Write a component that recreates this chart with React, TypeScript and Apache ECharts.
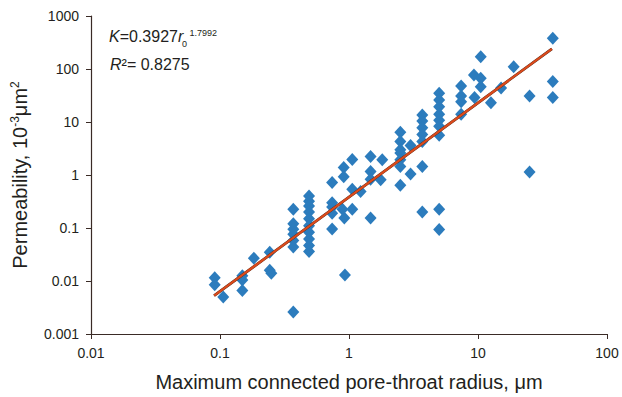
import React, { useEffect, useRef } from "react";
import * as echarts from "echarts";

const FONT = '"Liberation Sans", Arial, Helvetica, sans-serif';
const TEXT = "#231f20";
const AXIS = "#3a2b26";
const BLUE = "#2c7cbd";
const RED = "#da4a1c";

// Maximum connected pore-throat radius (µm), permeability (10^-3 µm^2)
const radius: number[] = [
  0.091, 0.091, 0.106,
  0.149, 0.149, 0.149,
  0.183,
  0.243, 0.243, 0.25,
  0.37, 0.37, 0.37, 0.37, 0.37, 0.37, 0.37,
  0.49, 0.49, 0.49, 0.49, 0.49, 0.49, 0.49, 0.49, 0.49, 0.49,
  0.74, 0.74, 0.74, 0.74, 0.74,
  0.91, 0.91, 0.89, 0.92, 0.93,
  1.06, 1.06, 1.06,
  1.23,
  1.47, 1.47, 1.47, 1.47,
  1.81, 1.76,
  2.5, 2.5, 2.5, 2.5, 2.5, 2.5, 2.5,
  3.0, 3.0,
  3.7, 3.7, 3.7, 3.7, 3.7, 3.7, 3.7,
  5.0, 5.0, 5.0, 5.0, 5.0, 5.0, 5.0, 5.0, 5.0,
  7.4, 7.4, 7.4, 7.4,
  9.3, 9.4,
  10.5, 10.5, 10.5,
  12.6,
  15.1,
  18.9,
  25.1, 25.1,
  38, 38, 38,
];
const permeability: number[] = [
  0.0115, 0.0085, 0.005,
  0.0125, 0.0105, 0.0066,
  0.027,
  0.035, 0.016, 0.014,
  0.225, 0.12, 0.095, 0.076, 0.058, 0.044, 0.0026,
  0.4, 0.32, 0.26, 0.2, 0.15, 0.11, 0.083, 0.062, 0.047, 0.036,
  0.72, 0.3, 0.25, 0.19, 0.096,
  1.38, 0.93, 0.225, 0.155, 0.013,
  1.97, 0.54, 0.225,
  0.49,
  2.24, 1.17, 0.83, 0.155,
  1.95, 0.81,
  6.4, 4.3, 3.0, 2.6, 1.94, 1.45, 0.64,
  3.6, 1.05,
  13.5, 10.4, 7.8, 5.8, 4.3, 1.45, 0.2,
  35, 26, 19.5, 14, 10.8, 8.3, 5.6, 0.225, 0.094,
  48, 31, 24, 14,
  77, 29,
  170, 67, 46,
  23,
  44,
  110,
  31, 1.14,
  380, 58, 29,
];

// Power-law trend line end points
const trendRadius: number[] = [0.09, 37.4];
const trendPerm: number[] = [0.0053, 240];

const xTicks: number[] = [0.01, 0.1, 1, 10, 100];
const yTicks: number[] = [0.001, 0.01, 0.1, 1, 10, 100, 1000];

const fmt = (v: number) => String(Number(v.toPrecision(6)));

export default function App() {
  const ref = useRef<HTMLDivElement>(null);
  useEffect(() => {
    if (!ref.current) return;
    const chart = echarts.init(ref.current, undefined, { renderer: "svg" });
    const points = radius.map((r, i) => [r, permeability[i]]);
    const trend = trendRadius.map((r, i) => [r, trendPerm[i]]);
    chart.setOption({
      animation: false,
      backgroundColor: "#ffffff",
      grid: { left: 91, right: 15, top: 16, bottom: 62, containLabel: false },
      xAxis: {
        type: "log",
        logBase: 10,
        min: xTicks[0],
        max: xTicks[xTicks.length - 1],
        name: "Maximum connected pore-throat radius, μm",
        nameLocation: "middle",
        nameGap: 38,
        nameTextStyle: { fontSize: 20, fontFamily: FONT, color: TEXT },
        axisLine: { show: true, lineStyle: { color: AXIS, width: 1.2 } },
        axisTick: { show: true, inside: false, length: 5, lineStyle: { color: AXIS } },
        minorTick: { show: false },
        splitLine: { show: false },
        axisLabel: {
          fontSize: 14,
          fontFamily: FONT,
          color: TEXT,
          margin: 12,
          formatter: (v: number) => fmt(v),
        },
      },
      yAxis: {
        type: "log",
        logBase: 10,
        min: yTicks[0],
        max: yTicks[yTicks.length - 1],
        name: "Permeability, 10{sup|-3}μm{sup|2}",
        nameLocation: "middle",
        nameGap: 60,
        nameRotate: 90,
        nameTextStyle: {
          fontSize: 20,
          fontFamily: FONT,
          color: TEXT,
          lineHeight: 22,
          rich: {
            sup: { fontSize: 12, fontFamily: FONT, color: TEXT, lineHeight: 12, verticalAlign: "top" },
          },
        },
        axisLine: { show: true, lineStyle: { color: AXIS, width: 1.2 } },
        axisTick: { show: true, inside: false, length: 5, lineStyle: { color: AXIS } },
        minorTick: { show: false },
        splitLine: { show: false },
        axisLabel: {
          fontSize: 14,
          fontFamily: FONT,
          color: TEXT,
          margin: 12,
          formatter: (v: number) => fmt(v),
        },
      },
      graphic: [
        {
          type: "text",
          x: 109,
          y: 36.5,
          style: {
            text: "{i|K}{n|=0.3927}{i|r}",
            rich: {
              i: { fontStyle: "italic", fontSize: 16, fontFamily: FONT, fill: TEXT },
              n: { fontSize: 16, fontFamily: FONT, fill: TEXT },
            },
            fontSize: 16,
            fontFamily: FONT,
            fill: TEXT,
            align: "left",
            verticalAlign: "middle",
          },
        },
        {
          type: "text",
          x: 182,
          y: 43.5,
          style: { text: "0", fontSize: 9, fontFamily: FONT, fill: TEXT, align: "left", verticalAlign: "middle" },
        },
        {
          type: "text",
          x: 189.5,
          y: 32.5,
          style: { text: "1.7992", fontSize: 9, fontFamily: FONT, fill: TEXT, align: "left", verticalAlign: "middle" },
        },
        {
          type: "text",
          x: 110,
          y: 64,
          style: {
            text: "{i|R}{n|²= 0.8275}",
            rich: {
              i: { fontStyle: "italic", fontSize: 16, fontFamily: FONT, fill: TEXT },
              n: { fontSize: 16, fontFamily: FONT, fill: TEXT },
            },
            fontSize: 16,
            fontFamily: FONT,
            fill: TEXT,
            align: "left",
            verticalAlign: "middle",
          },
        },
      ],
      series: [
        {
          type: "scatter",
          data: points,
          symbol: "diamond",
          symbolSize: [12, 13],
          itemStyle: { color: BLUE, opacity: 1 },
          z: 2,
        },
        {
          type: "line",
          data: trend,
          symbol: "none",
          lineStyle: { color: "#3a1f14", width: 2.7 },
          z: 3,
        },
        {
          type: "line",
          data: trend,
          symbol: "none",
          lineStyle: { color: RED, width: 2.3 },
          z: 4,
        },
      ],
    });
    return () => chart.dispose();
  }, []);
  return (
    <div
      ref={ref}
      style={{ position: "absolute", left: 0, top: 0, width: 622, height: 397, background: "#fff" }}
    />
  );
}
